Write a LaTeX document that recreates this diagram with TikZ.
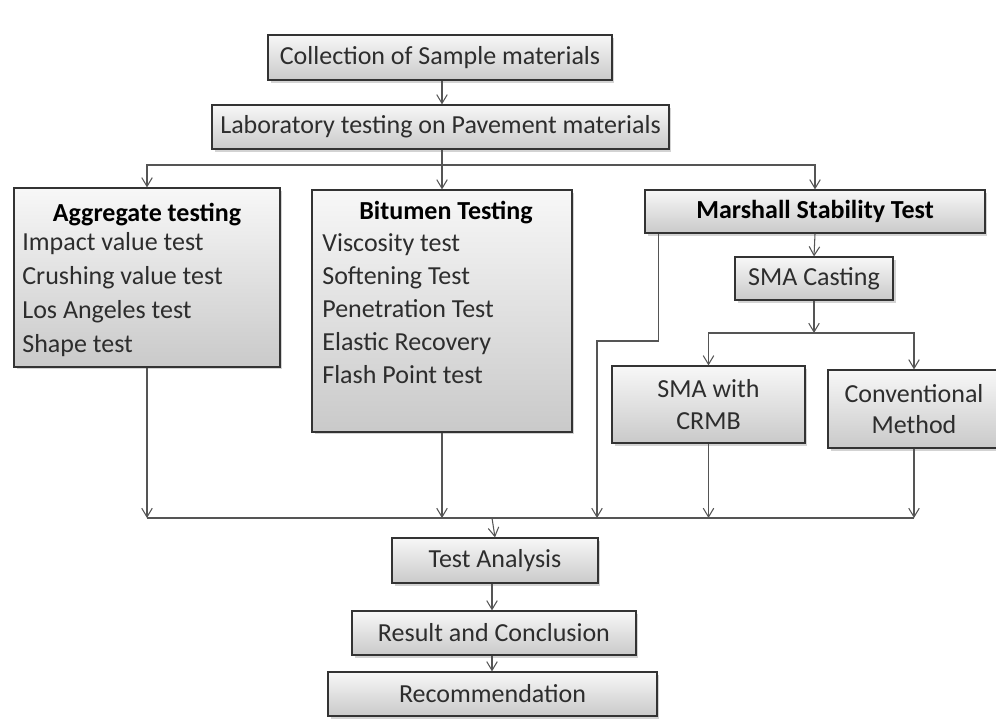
\documentclass[tikz,border=0pt]{standalone}
\usepackage{fontspec}
\setmainfont{Carlito}
\usetikzlibrary{arrows.meta,shadows}
\definecolor{line1}{RGB}{85,85,85}
\definecolor{text1}{RGB}{45,45,45}

\tikzset{
  box/.style={draw=black!80,line width=0.7pt,top color=gray!6,bottom color=gray!42,
    drop shadow={shadow xshift=0.05cm,shadow yshift=-0.05cm,opacity=0.35},
    inner sep=0pt,align=center,text=text1,font=\fontsize{14.8}{19}\selectfont},
  item/.style={anchor=base west,inner sep=0pt,text=text1,font=\fontsize{14.8}{19}\selectfont},
  title/.style={inner sep=0pt,text=black,font=\bfseries\fontsize{14.8}{19}\selectfont},
  arr/.style={draw=line1,line width=0.6pt,-{Straight Barb[length=5pt,width=6pt]}},
  ln/.style={draw=line1,line width=0.6pt}
}

\begin{document}
\begin{tikzpicture}[x=0.02cm,y=-0.02cm]

\useasboundingbox (0,0) rectangle (996,718);
\clip (0,0) rectangle (996,718);

\node[box,minimum width=6.88cm,minimum height=0.9cm] (col) at (440,57.5) {Collection of Sample materials};
\node[box,minimum width=9.14cm,minimum height=0.88cm] (lab) at (440.5,127) {Laboratory testing on Pavement materials};

\node[box,minimum width=5.32cm,minimum height=3.58cm] (agg) at (147,277.5) {};
\node[title] (aggt) at (147,215) {Aggregate testing};
\foreach \t [count=\i] in {Impact value test,Crushing value test,Los Angeles test,Shape test}
  \node[item] (agg\i) at (22,250+34*\i-34) {\t};

\node[box,minimum width=5.2cm,minimum height=4.84cm] (bit) at (442,311) {};
\node[title] (bitt) at (446,213) {Bitumen Testing};
\foreach \t [count=\i] in {Viscosity test,Softening Test,Penetration Test,Elastic Recovery,Flash Point test}
  \node[item] (bit\i) at (322,251+33*\i-33) {\t};

\node[box,minimum width=6.8cm,minimum height=0.86cm,font=\bfseries\fontsize{14.8}{19}\selectfont,text=black] (mst) at (815,211.5) {Marshall Stability Test};
\node[box,minimum width=3.16cm,minimum height=0.86cm] (cast) at (814,278.5) {SMA Casting};
\node[box,minimum width=3.86cm,minimum height=1.54cm,font=\fontsize{14.8}{18.7}\selectfont] (crmb) at (708.5,404.5) {SMA with\\CRMB};
\node[box,minimum width=3.44cm,minimum height=1.56cm,font=\fontsize{14.8}{17.6}\selectfont] (conv) at (914,409) {Conventional\\Method};

\node[box,minimum width=4.12cm,minimum height=0.9cm] (ta) at (495,560.5) {Test Analysis};
\node[box,minimum width=5.68cm,minimum height=0.88cm] (rc) at (494,633) {Result and Conclusion};
\node[box,minimum width=6.58cm,minimum height=0.88cm] (rec) at (492.5,694) {Recommendation};

\coordinate (top) at (442,165);
\coordinate (fork) at (814,333);
\coordinate (bend) at (597,341);
\coordinate (bot) at (492,518);

% top part
\draw[arr] (col.south -| top) -- (lab.north -| top);
\draw[ln] (lab.south -| top) -- (top);
\draw[arr] (top) -| (agg.north);
\draw[arr] (top) -- (bit.north);
\draw[arr] (top) -| (mst.north);

% marshall branch
\draw[arr] (mst.south) -- (cast.north);
\draw[arr] (cast.south) -- (fork);
\draw[arr] (fork) -| (crmb.north);
\draw[arr] (fork) -| (conv.north);
\draw[arr] ([xshift=0.28cm]mst.south west) |- (bend) -- (bend |- bot);

% collecting line
\draw[ln] (agg.south |- bot) -- (conv.south |- bot);
\draw[arr] (agg.south) -- (agg.south |- bot);
\draw[arr] (bit.south) -- (bit.south |- bot);
\draw[arr] (crmb.south) -- (crmb.south |- bot);
\draw[arr] (conv.south) -- (conv.south |- bot);

\draw[arr] (bot) -- (ta.north);
\draw[arr] (ta.south -| bot) -- (rc.north -| bot);
\draw[arr] (rc.south -| bot) -- (rec.north -| bot);

\end{tikzpicture}
\end{document}
